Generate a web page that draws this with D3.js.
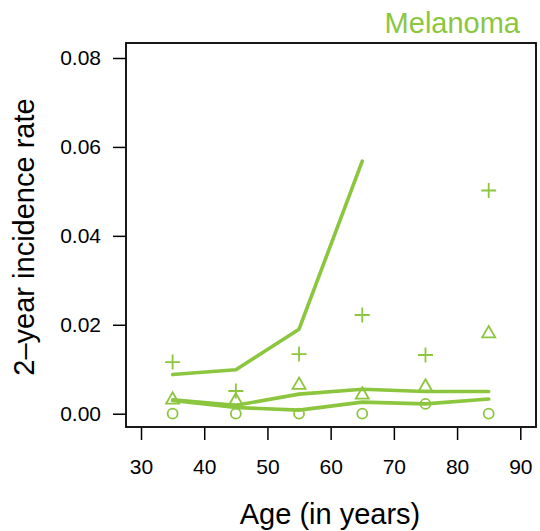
<!DOCTYPE html>
<html>
<head>
<meta charset="utf-8">
<script src="https://cdn.jsdelivr.net/npm/d3@7"></script>
<style>
body { margin: 0; background: #fff; }
svg { display: block; font-family: "Liberation Sans", Arial, Helvetica, sans-serif; }
</style>
</head>
<body>
<svg id="chart" width="540" height="531"></svg>
<script>
// ---- data ----
const ages = [35, 45, 55, 65, 75, 85];
const lineHigh = [0.0088, 0.0099, 0.0190, 0.0568];          // ages 35-65
const lineMid  = [0.0031, 0.0019, 0.0044, 0.0055, 0.0050, 0.0050];
const lineLow  = [0.0030, 0.0014, 0.0008, 0.0026, 0.0022, 0.0033];
const plusPts  = [0.0116, 0.0051, 0.0134, 0.0222, 0.0132, 0.0502];
const triPts   = [0.0033, 0.0031, 0.0066, 0.0044, 0.0062, 0.0182];
const circPts  = [0.0000, 0.0000, 0.0000, 0.0000, 0.0022, 0.0000];
const xTicks = [30, 40, 50, 60, 70, 80, 90];
const yTicks = [0, 0.02, 0.04, 0.06, 0.08];
const title = "Melanoma";
const xTitle = "Age (in years)";
const yTitle = "2\u2013year incidence rate";

// ---- layout ----
const color = "#8CC63F";
const box = { left: 126, top: 43, right: 536, bottom: 427 };
const svg = d3.select("#chart");

const x = d3.scaleLinear().domain([30, 90]).range([141, 520.3]);
const y = d3.scaleLinear().domain([0, 0.08]).range([413.7, 58]);

// frame
svg.append("rect")
  .attr("x", box.left).attr("y", box.top)
  .attr("width", box.right - box.left).attr("height", box.bottom - box.top)
  .attr("fill", "none").attr("stroke", "#000").attr("stroke-width", 1.8);

// x axis
const xAxis = d3.axisBottom(x).tickValues(xTicks).tickSize(12).tickPadding(0).tickFormat(d3.format("d"));
const gx = svg.append("g").attr("transform", `translate(0,${box.bottom + 1})`).call(xAxis);
gx.select(".domain").remove();
gx.selectAll(".tick line").attr("stroke", "#000").attr("stroke-width", 1.5);
gx.selectAll(".tick text").attr("font-size", 21).attr("fill", "#000")
  .attr("font-family", "Liberation Sans, Arial, sans-serif")
  .attr("dy", null).attr("y", 46);

// y axis
const yAxis = d3.axisLeft(y).tickValues(yTicks).tickSize(13).tickPadding(12).tickFormat(d3.format(".2f"));
const gy = svg.append("g").attr("transform", `translate(${box.left},0)`).call(yAxis);
gy.select(".domain").remove();
gy.selectAll(".tick line").attr("stroke", "#000").attr("stroke-width", 1.5);
gy.selectAll(".tick text").attr("font-size", 21).attr("fill", "#000")
  .attr("font-family", "Liberation Sans, Arial, sans-serif");

// titles
svg.append("text").attr("x", 520).attr("y", 33).attr("text-anchor", "end")
  .attr("font-size", 29).attr("fill", color).text(title);
svg.append("text").attr("x", (box.left + box.right) / 2 - 1).attr("y", 524).attr("text-anchor", "middle")
  .attr("font-size", 29).attr("fill", "#000").text(xTitle);
svg.append("text").attr("transform", `translate(34,${(box.top + box.bottom) / 2 + 2}) rotate(-90)`)
  .attr("text-anchor", "middle").attr("font-size", 29).attr("fill", "#000").text(yTitle);

// lines
const line = d3.line().x((d, i) => x(ages[i])).y(d => y(d));
[lineHigh, lineMid, lineLow].forEach(arr => {
  svg.append("path").datum(arr).attr("d", line)
    .attr("fill", "none").attr("stroke", color).attr("stroke-width", 3.6)
    .attr("stroke-linejoin", "round").attr("stroke-linecap", "round");
});

// plus markers
const ps = 7.5;
svg.append("g").selectAll("path").data(plusPts).join("path")
  .attr("d", (d, i) => {
    const cx = x(ages[i]), cy = y(d);
    return `M${cx - ps},${cy}H${cx + ps}M${cx},${cy - ps}V${cy + ps}`;
  })
  .attr("stroke", color).attr("stroke-width", 1.8).attr("fill", "none");

// triangle markers
const ts = 6.5;
svg.append("g").selectAll("path").data(triPts).join("path")
  .attr("d", (d, i) => {
    const cx = x(ages[i]), cy = y(d);
    return `M${cx},${cy - ts * 1.05}L${cx + ts},${cy + ts * 0.7}L${cx - ts},${cy + ts * 0.7}Z`;
  })
  .attr("stroke", color).attr("stroke-width", 1.8).attr("fill", "none");

// circle markers
svg.append("g").selectAll("circle").data(circPts).join("circle")
  .attr("cx", (d, i) => x(ages[i])).attr("cy", d => y(d)).attr("r", 5)
  .attr("stroke", color).attr("stroke-width", 1.8).attr("fill", "none");
</script>
</body>
</html>
